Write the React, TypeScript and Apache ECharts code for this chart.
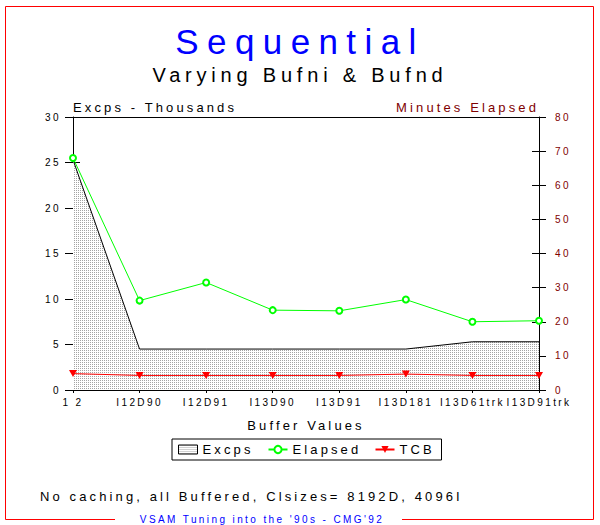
import React, { useEffect, useRef } from 'react';
import * as echarts from 'echarts';

// ---- data ----
const categories = ['1 2', 'I12D90', 'I12D91', 'I13D90', 'I13D91', 'I13D181', 'I13D61trk', 'I13D91trk'];
const excpsThousands = [25.3, 4.5, 4.5, 4.5, 4.5, 4.5, 5.3, 5.3];
const elapsedMinutes = [68, 26.2, 31.5, 23.4, 23.2, 26.5, 20, 20.3];
const tcbThousands = [1.8, 1.6, 1.6, 1.6, 1.6, 1.75, 1.6, 1.6];
const seriesNames = ['Excps', 'Elapsed', 'TCB'];
const leftAxisRange = [0, 30, 5]; // min, max, interval
const rightAxisRange = [0, 80, 10];

const titleText = 'Sequential';
const subtitleText = 'Varying Bufni & Bufnd';
const leftAxisName = 'Excps - Thousands';
const rightAxisName = 'Minutes Elapsed';
const xAxisName = 'Buffer Values';
const noteText = 'No caching, all Buffered, Clsizes= 8192D, 4096I';
const footerText = "VSAM Tuning into the '90s - CMG'92";

const FONT = '"Liberation Sans", Arial, Helvetica, sans-serif';

function makePattern() {
  const c = document.createElement('canvas');
  c.width = 2;
  c.height = 2;
  const ctx = c.getContext('2d')!;
  ctx.fillStyle = '#ffffff';
  ctx.fillRect(0, 0, 2, 2);
  ctx.fillStyle = '#a4a4a4';
  ctx.fillRect(0, 0, 1, 1);
  return { image: c.toDataURL(), repeat: 'repeat', imageWidth: 2, imageHeight: 2 } as any;
}

export default function App() {
  const ref = useRef<HTMLDivElement>(null);

  useEffect(() => {
    document.body.style.margin = '0';
    const chart = echarts.init(ref.current!, null, { renderer: 'svg' });
    const pattern = makePattern();
    const black = '#000000';
    const maroon = '#800000';
    const clearBg = 'rgba(255,255,255,0)';

    const option: any = {
      animation: false,
      backgroundColor: '#ffffff',
      textStyle: { fontFamily: FONT },
      title: [
        {
          text: titleText,
          left: 'center',
          top: 24,
          padding: 0,
          textStyle: { color: '#0000ff', fontSize: 35, fontWeight: 'normal', fontFamily: FONT },
        },
        {
          text: subtitleText,
          left: 'center',
          top: 65,
          padding: 0,
          textStyle: { color: black, fontSize: 20, fontWeight: 'normal', fontFamily: FONT },
        },
      ],
      grid: {
        left: 73,
        right: 61,
        top: 117,
        bottom: 135,
        show: false,
      },
      legend: {
        left: 172,
        top: 439,
        orient: 'horizontal',
        itemWidth: 19,
        itemHeight: 9,
        itemGap: 14,
        padding: [4, 5, 4, 6],
        borderColor: black,
        borderWidth: 1,
        borderRadius: 0,
        textStyle: { fontSize: 13, color: black, fontFamily: FONT },
        data: [
          {
            name: seriesNames[0],
            icon: 'rect',
            itemStyle: { color: pattern, borderColor: black, borderWidth: 1 },
            textStyle: { width: 51, backgroundColor: clearBg },
          },
          { name: seriesNames[1], textStyle: { width: 68, backgroundColor: clearBg } },
          { name: seriesNames[2], textStyle: { width: 37, backgroundColor: clearBg } },
        ],
      },
      xAxis: [
        {
          type: 'category',
          data: categories,
          boundaryGap: false,
          position: 'bottom',
          axisLine: { show: true, onZero: false, lineStyle: { color: black, width: 1 } },
          axisTick: { show: true, length: 3, lineStyle: { color: black } },
          axisLabel: { interval: 0, color: black, fontSize: 10, fontFamily: FONT, margin: 7 },
          splitLine: { show: false },
          name: xAxisName,
          nameLocation: 'middle',
          nameGap: 35,
          nameTextStyle: { fontSize: 13, color: black, fontFamily: FONT, verticalAlign: 'middle' },
        },
        {
          type: 'category',
          data: categories,
          boundaryGap: false,
          position: 'bottom',
          axisLine: { show: false, onZero: false },
          axisTick: { show: true, inside: true, length: 4, lineStyle: { color: black } },
          axisLabel: { show: false },
          splitLine: { show: false },
        },
        {
          type: 'category',
          data: categories,
          boundaryGap: false,
          position: 'top',
          axisLine: { show: true, onZero: false, lineStyle: { color: black, width: 1 } },
          axisTick: { show: false },
          axisLabel: { show: false },
          splitLine: { show: false },
        },
      ],
      yAxis: [
        {
          type: 'value',
          position: 'left',
          min: leftAxisRange[0],
          max: leftAxisRange[1],
          interval: leftAxisRange[2],
          axisLine: { show: true, onZero: false, lineStyle: { color: black, width: 1 } },
          axisTick: { show: true, length: 8, lineStyle: { color: black } },
          axisLabel: { color: black, fontSize: 10, fontFamily: FONT, margin: 12 },
          splitLine: { show: false },
          name: leftAxisName,
          nameLocation: 'end',
          nameGap: 10,
          nameTextStyle: { align: 'left', verticalAlign: 'middle', fontSize: 13, color: black, fontFamily: FONT },
        },
        {
          type: 'value',
          position: 'right',
          min: rightAxisRange[0],
          max: rightAxisRange[1],
          interval: rightAxisRange[2],
          axisLine: { show: true, onZero: false, lineStyle: { color: black, width: 1 } },
          axisTick: { show: true, length: 7, lineStyle: { color: black } },
          axisLabel: { color: maroon, fontSize: 10, fontFamily: FONT, margin: 16 },
          splitLine: { show: false },
          name: rightAxisName,
          nameLocation: 'end',
          nameGap: 10,
          nameTextStyle: { align: 'right', verticalAlign: 'middle', fontSize: 13, color: maroon, fontFamily: FONT },
        },
        {
          type: 'value',
          position: 'left',
          min: leftAxisRange[0],
          max: leftAxisRange[1],
          interval: leftAxisRange[2],
          axisLine: { show: false, onZero: false },
          axisTick: { show: true, inside: true, length: 7, lineStyle: { color: black } },
          axisLabel: { show: false },
          splitLine: { show: false },
        },
        {
          type: 'value',
          position: 'right',
          min: rightAxisRange[0],
          max: rightAxisRange[1],
          interval: rightAxisRange[2],
          axisLine: { show: false, onZero: false },
          axisTick: { show: true, inside: true, length: 7, lineStyle: { color: black } },
          axisLabel: { show: false },
          splitLine: { show: false },
        },
      ],
      series: [
        {
          name: seriesNames[0],
          type: 'line',
          xAxisIndex: 0,
          yAxisIndex: 0,
          data: excpsThousands,
          symbol: 'none',
          lineStyle: { color: black, width: 1 },
          itemStyle: { color: black },
          areaStyle: { color: pattern, opacity: 1 },
          z: 1,
        },
        {
          name: seriesNames[1],
          type: 'line',
          xAxisIndex: 0,
          yAxisIndex: 1,
          data: elapsedMinutes,
          symbol: 'emptyCircle',
          symbolSize: 6,
          lineStyle: { color: '#00ff00', width: 1 },
          itemStyle: { color: '#00ff00', borderWidth: 1 },
          z: 3,
        },
        {
          name: seriesNames[2],
          type: 'line',
          xAxisIndex: 0,
          yAxisIndex: 0,
          data: tcbThousands,
          symbol: 'triangle',
          symbolRotate: 180,
          symbolSize: [8, 7],
          lineStyle: { color: '#ff0000', width: 1 },
          itemStyle: { color: '#ff0000' },
          z: 2,
        },
      ],
      graphic: [
        {
          type: 'polyline',
          silent: true,
          shape: {
            points: [
              [115, 519.5],
              [5.5, 519.5],
              [5.5, 6.5],
              [593.5, 6.5],
              [593.5, 519.5],
              [402, 519.5],
            ],
          },
          style: { stroke: '#ff0000', lineWidth: 1, fill: null },
        },
        {
          type: 'text',
          x: 40,
          y: 496,
          style: {
            text: noteText,
            fill: black,
            font: `13px ${FONT}`,
            textAlign: 'left',
            textVerticalAlign: 'middle',
          },
        },
        {
          type: 'text',
          x: 262,
          y: 519,
          style: {
            text: footerText,
            fill: '#0000ff',
            font: `10px ${FONT}`,
            textAlign: 'center',
            textVerticalAlign: 'middle',
          },
        },
      ],
    };

    chart.setOption(option);
    return () => chart.dispose();
  }, []);

  return (
    <div>
      <style>{'.chart-root text { letter-spacing: 0.24em; }'}</style>
      <div ref={ref} className="chart-root" style={{ width: 600, height: 525 }} />
    </div>
  );
}
